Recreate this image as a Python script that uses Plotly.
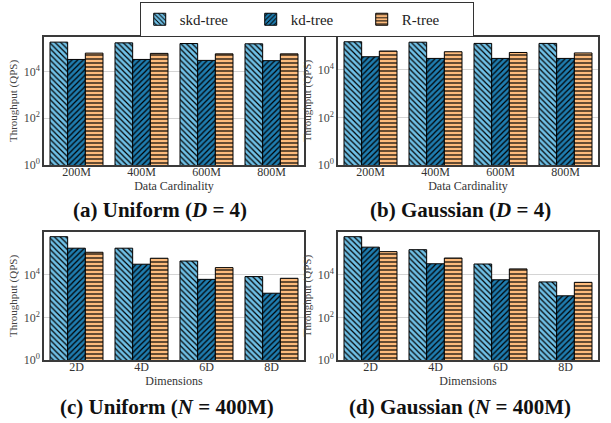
import plotly.graph_objects as go

# ---------------- data ----------------
card_labels = ["200M", "400M", "600M", "800M"]
dim_labels = ["2D", "4D", "6D", "8D"]
series_names = ["skd-tree", "kd-tree", "R-tree"]

# (a) Uniform, D = 4
a_skd = [178000, 166000, 155000, 151000]
a_kd = [32400, 32400, 29500, 28800]
a_r = [60300, 58900, 56200, 56200]
# (b) Gaussian, D = 4
b_skd = [151000, 145000, 129000, 129000]
b_kd = [35500, 30200, 30200, 30200]
b_r = [61700, 57500, 53700, 51300]
# (c) Uniform, N = 400M
c_skd = [603000, 174000, 43600, 8130]
c_kd = [174000, 30900, 6030, 1350]
c_r = [112000, 58900, 21400, 6760]
# (d) Gaussian, N = 400M
d_skd = [603000, 148000, 31600, 4570]
d_kd = [195000, 32400, 5750, 1020]
d_r = [120000, 60300, 18600, 4370]

captions = [
    "<b>(a) Uniform (<i>D</i> = 4)</b>",
    "<b>(b) Gaussian (<i>D</i> = 4)</b>",
    "<b>(c) Uniform (<i>N</i> = 400M)</b>",
    "<b>(d) Gaussian (<i>N</i> = 400M)</b>",
]

# ---------------- style ----------------
W, H = 611, 423
FONT = "Liberation Serif"
colors = ["#6fc0e6", "#1f7db0", "#fdbb7c"]
shapes = ["\\", "/", "-"]

def px_x(a, b):
    return [a / W, b / W]

def px_y(top, bottom):
    return [(H - bottom) / H, (H - top) / H]

panels = [
    dict(x=px_x(44, 304), y=px_y(37, 165), cats=card_labels, data=[a_skd, a_kd, a_r],
         title="Data Cardinality", yr=5.47),
    dict(x=px_x(338, 598), y=px_y(37, 165), cats=card_labels, data=[b_skd, b_kd, b_r],
         title="Data Cardinality", yr=5.38),
    dict(x=px_x(44, 304), y=px_y(232, 360), cats=dim_labels, data=[c_skd, c_kd, c_r],
         title="Dimensions", yr=6.0),
    dict(x=px_x(338, 598), y=px_y(232, 360), cats=dim_labels, data=[d_skd, d_kd, d_r],
         title="Dimensions", yr=6.0),
]

fig = go.Figure()
layout = dict(
    width=W, height=H, autosize=False,
    margin=dict(l=0, r=0, t=0, b=0, autoexpand=False),
    paper_bgcolor="white", plot_bgcolor="white",
    font=dict(family=FONT, color="#333333", size=11),
    barmode="group", bargap=0.185, bargroupgap=0,
    showlegend=True,
    legend=dict(
        orientation="h", x=0.502, xanchor="center", y=1 - 2 / H, yanchor="top",
        bordercolor="#333333", borderwidth=1, bgcolor="white",
        font=dict(family=FONT, size=15, color="#222222"),
        entrywidth=66, entrywidthmode="pixels", itemwidth=30,
    ),
)

annotations = []
for i, p in enumerate(panels):
    k = "" if i == 0 else str(i + 1)
    xa, ya = "x" + k, "y" + k
    for j, (name, vals) in enumerate(zip(series_names, p["data"])):
        fig.add_trace(go.Bar(
            x=p["cats"], y=vals, name=name, xaxis=xa, yaxis=ya,
            showlegend=(i == 0), legendgroup=name,
            marker=dict(
                color=colors[j],
                line=dict(color="black", width=1),
                pattern=dict(shape=shapes[j], size=4, solidity=0.3,
                             fgcolor="black", bgcolor=colors[j], fillmode="replace"),
            ),
        ))
    layout["xaxis" + k] = dict(
        domain=p["x"], anchor=ya, type="category", range=[-0.5, 3.5],
        showline=True, linecolor="#3a3a3a", linewidth=1.5, mirror=True,
        ticks="", showgrid=False, automargin=False, ticklabelstandoff=-5,
        tickfont=dict(family=FONT, size=12, color="#333333"),
        title=dict(text=p["title"], standoff=0,
                   font=dict(family=FONT, size=12, color="#333333")),
    )
    layout["yaxis" + k] = dict(
        domain=p["y"], anchor=xa, type="log", range=[0, p["yr"]],
        tickvals=[1, 100, 10000],
        ticktext=["10<sup>0</sup>", "10<sup>2</sup>", "10<sup>4</sup>"],
        showline=True, linecolor="#3a3a3a", linewidth=1.5, mirror=True,
        ticks="", showgrid=True, gridcolor="#d4d4d4", gridwidth=1,
        zeroline=False, automargin=False,
        tickfont=dict(family=FONT, size=12, color="#444444"),
        title=dict(text="Throughput (QPS)", standoff=4,
                   font=dict(family=FONT, size=11, color="#444444")),
    )

cap_pos = [(160, 210), (460, 210), (167, 407), (460, 407)]
for (cx, cy), text in zip(cap_pos, captions):
    annotations.append(dict(
        text=text, x=cx / W, y=(H - cy) / H, xref="paper", yref="paper",
        xanchor="center", yanchor="middle", showarrow=False,
        font=dict(family=FONT, size=21, color="#111111"),
    ))
layout["annotations"] = annotations

fig.update_layout(**layout)
fig.write_html("out.html", config={"displayModeBar": False},
               post_script="document.body.style.margin='0';document.body.style.padding='0';")
